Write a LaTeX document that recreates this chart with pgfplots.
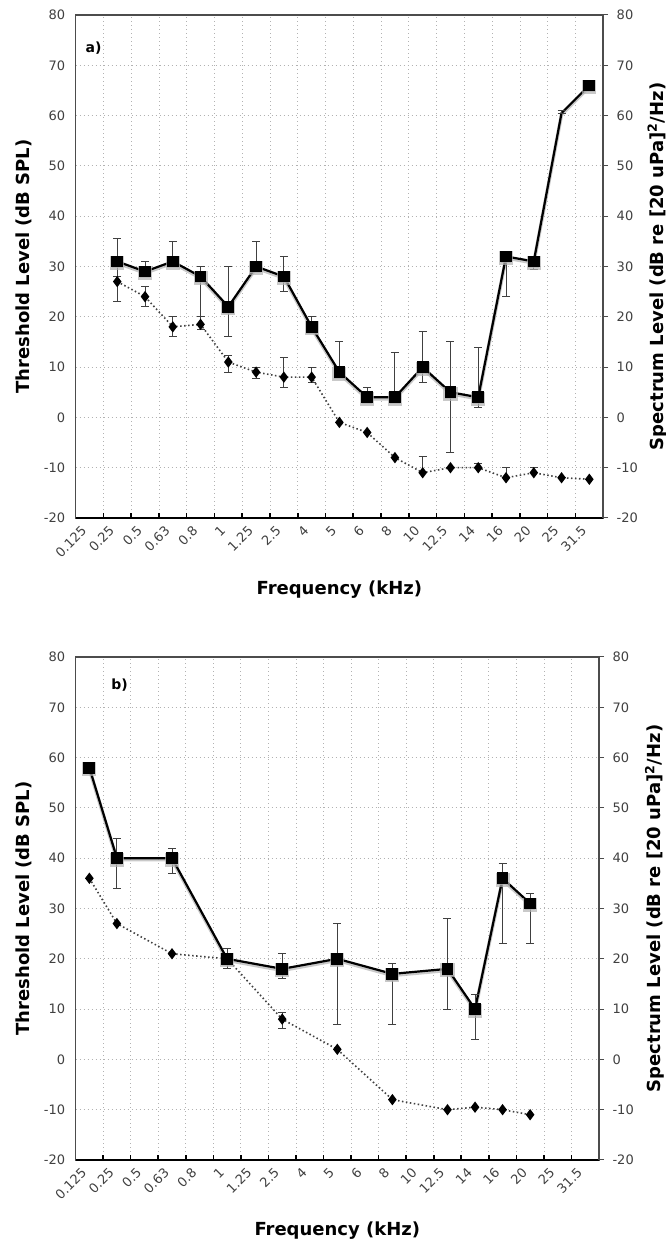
\documentclass[border=0pt]{standalone}
\usepackage{pgfplots}
\usepackage{pgfplotstable}
\usepackage{fontspec}
\setmainfont{DejaVu Sans}
\pgfplotsset{compat=1.18}

% panel a: threshold (x = category index, ep/em = error plus/minus)
\pgfplotstableread{
x y ep em
1 31 4.5 3
2 29 2 1
3 31 4 1
4 28 2 8
5 22 8 6
6 30 5 1
7 28 4 3
8 18 2 1
9 9 6 1
10 4 2 1
11 4 9 1
12 10 7 3
13 5 10 12
14 4 10 2
15 32 0.5 8
16 31 0.5 1.5
17 60.5 0.5 0
18 66 0 0
}\thrA
% panel a: spectrum level
\pgfplotstableread{
x y ep em
1 27 1 4
2 24 2 2
3 18 2 2
4 18.5 1.5 1
5 11 1.3 2
6 9 1 1.2
7 8 4 2
8 8 2 1
9 -1 0 0
10 -3 0 0
11 -8 0 0
12 -11 3.2 0
13 -10 0 0
14 -10 0.8 0
15 -12 2 0
16 -11 1 0
17 -12 0 0
18 -12.3 0 0
}\splA
% panel b: threshold
\pgfplotstableread{
x y ep em
0 58 0 0
1 40 4 6
3 40 2 3
5 20 2 2
7 18 3 2
9 20 7 13
11 17 2 10
13 18 10 8
14 10 3 6
15 36 3 13
16 31 2 8
}\thrB
% panel b: spectrum level
\pgfplotstableread{
x y ep em
0 36 0 0
1 27 0 0
3 21 0 0
5 20 0 0
7 8 1.3 1.8
9 2 0 0
11 -8 0 0
13 -10 0 0
14 -9.5 0 0
15 -10 0 0
16 -11 0 0
}\splB

\tikzset{lab/.style={font=\bfseries\fontsize{18}{18}\selectfont}}
\pgfplotsset{
  base/.style={scale only axis, height=503pt, xmin=-0.5, xmax=18.5,
    ymin=-20, ymax=80, clip=false},
  panel/.style={base,
    xtick={0,...,18},
    xticklabels={0.125,0.25,0.5,0.63,0.8,1,1.25,2.5,4,5,6,8,10,12.5,14,16,20,25,31.5},
    minor xtick={0.5,1.5,...,17.5},
    xtick pos=left, ytick pos=left,
    ytick={-20,-10,...,80},
    tick align=inside, major tick length=0pt, minor tick length=5pt,
    minor tick style={black, line width=1.6pt},
    xminorgrids=true, ymajorgrids=true,
    minor grid style={gray!60, line width=0.8pt, dash pattern=on 1pt off 3pt},
    major grid style={gray!60, line width=0.8pt, dash pattern=on 1pt off 3pt},
    axis line style={gray!60!black, line width=1.6pt},
    tick label style={font=\fontsize{13}{13}\selectfont, text=black!75},
    xticklabel style={xshift=-3pt, yshift=-8pt, rotate=45, anchor=east},
    yticklabel style={xshift=-7pt},
    /pgf/number format/assume math mode=true},
  rightax/.style={base, axis x line=none, axis y line*=right,
    ytick={-20,-10,...,80}, tick align=outside, major tick length=5pt,
    axis line style={gray!60!black, line width=1.6pt},
    tick style={gray!60!black, line width=1pt},
    tick label style={font=\fontsize{13}{13}\selectfont, text=black!75},
    yticklabel style={xshift=5pt},
    /pgf/number format/assume math mode=true},
  thr/.style={black, line width=2.2pt, mark=square*, mark size=4.8pt},
  shadow/.style={gray!60, opacity=0.7, line width=3.5pt, mark=square*,
    mark size=5.3pt, yshift=-1.5pt, forget plot},
  spl/.style={gray!50!black, line width=1.6pt, dash pattern=on 1.5pt off 2.5pt,
    mark=diamond*, mark size=4.4pt, mark options={solid, black}},
  ebar/.style={error bars/.cd, y dir=both, y explicit,
    error bar style={gray!50!black, line width=0.9pt, solid},
    error mark options={rotate=90, gray!50!black, line width=0.9pt, mark size=4pt}},
}

\begin{document}
\begin{tikzpicture}
\path[use as bounding box] (0,0) rectangle (666pt,1245pt);

% ---- panel a ----
\begin{axis}[panel, width=527.6pt, at={(75.6pt,727pt)}, anchor=south west]
\addplot[spl, ebar] table[x=x, y=y, y error plus=ep, y error minus=em] {\splA};
\addplot[shadow, mark indices={1,...,16,18}] table[x=x, y=y] {\thrA};
\addplot[thr, mark indices={1,...,16,18}, ebar] table[x=x, y=y, y error plus=ep, y error minus=em] {\thrA};
\draw[black, line width=2.2pt] (rel axis cs:0,0) -- (rel axis cs:1,0);
\node[lab, rotate=90] at ([xshift=-51.6pt]rel axis cs:0,0.5) {Threshold Level (dB SPL)};
\node[lab, rotate=90] at ([xshift=54pt]rel axis cs:1,0.5) {Spectrum Level (dB re [20 uPa]\textsuperscript{2}/Hz)};
\node[lab] at ([yshift=-72pt]rel axis cs:0.5,0) {Frequency (kHz)};
\node[font=\bfseries\fontsize{14}{14}\selectfont] at ([xshift=18pt,yshift=-33pt]rel axis cs:0,1) {a)};
\end{axis}
\begin{axis}[rightax, width=527.6pt, at={(75.6pt,727pt)}, anchor=south west]
\end{axis}

% ---- panel b ----
\begin{axis}[panel, width=523.4pt, at={(75.6pt,85pt)}, anchor=south west]
\addplot[spl, ebar] table[x=x, y=y, y error plus=ep, y error minus=em] {\splB};
\addplot[shadow] table[x=x, y=y] {\thrB};
\addplot[thr, ebar] table[x=x, y=y, y error plus=ep, y error minus=em] {\thrB};
\draw[black, line width=2.2pt] (rel axis cs:0,0) -- (rel axis cs:1,0);
\node[lab, rotate=90] at ([xshift=-51.6pt]rel axis cs:0,0.5) {Threshold Level (dB SPL)};
\node[lab, rotate=90] at ([xshift=55.6pt]rel axis cs:1,0.5) {Spectrum Level (dB re [20 uPa]\textsuperscript{2}/Hz)};
\node[lab] at ([yshift=-71pt]rel axis cs:0.5,0) {Frequency (kHz)};
\node[font=\bfseries\fontsize{14}{14}\selectfont] at ([xshift=44pt,yshift=-28pt]rel axis cs:0,1) {b)};
\end{axis}
\begin{axis}[rightax, width=523.4pt, at={(75.6pt,85pt)}, anchor=south west]
\end{axis}
\end{tikzpicture}
\end{document}
